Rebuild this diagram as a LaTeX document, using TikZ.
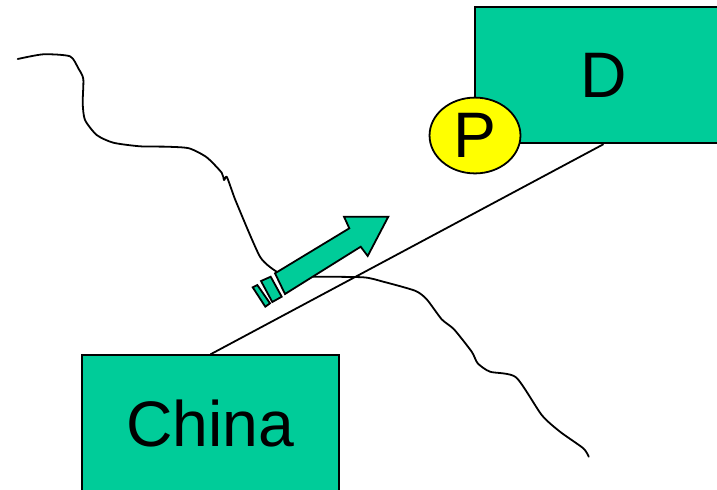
\documentclass[tikz,border=0pt]{standalone}
\usepackage{fontspec}
\setmainfont{Liberation Sans}
\usetikzlibrary{shapes.geometric}

\tikzset{
    countrybox/.style={shape=rectangle,draw,fill=map_green,line width=1.35pt,minimum width=6.81cm,minimum height=3.62cm,font=\fontsize{48.5}{50}\selectfont},
    riverline/.style={line width=1.35pt,line join=round,line cap=round},
}

\begin{document}
\begin{tikzpicture}[x=0.0265cm,y=-0.0265cm]
    \definecolor{map_green}{RGB}{0,204,153}
    \definecolor{map_yellow}{RGB}{255,255,0}

    \useasboundingbox (0,0) rectangle (717,489);
    \clip (0,0) rectangle (717,489);

    \node[countrybox] (china) at (210.5,423.5) {China};
    \node[countrybox] (dest) at (603.5,75) {D};

    \draw[line width=1.35pt] (china.north) to (dest.south);

    % river, west part
    \draw[riverline] plot[smooth,tension=0.4] coordinates {
        (17.7,59) (43.3,54.3) (70,56.3) (78.3,68.3) (83.3,79) (82.7,103.3) (85,120)
        (96.7,135) (113.3,142.7) (140,146.3) (166.7,146.7) (189,148.3) (206.7,157.3)
        (221.7,172.7) (224,180) (226.7,176.7) (231.7,190) (236.7,203.3) (260,256.7) (276.7,271.7)
    };
    % river, east part
    \draw[riverline] plot[smooth,tension=0.4] coordinates {
        (313,276.7) (363.3,277.3) (383.3,281.7) (415,290.7) (426.7,299.3) (441.7,319.3)
        (454,329.3) (471.7,351.7) (477.7,363.3) (490,371.7) (516,377.3) (541.7,415)
        (560,431.7) (583.3,448.3) (588.7,456.7)
    };

    \node[shape=ellipse,draw,fill=map_yellow,line width=1.35pt,inner sep=0pt,minimum width=2.41cm,minimum height=2.01cm,font=\fontsize{48.5}{50}\selectfont] (port) at (475,135.5) {P};

    \draw[line width=1.35pt,fill=map_green,line join=miter] (275,273.3) to (349.3,228.3) to (344,216.7) to (388.3,216.7) to (367.7,256) to (360.7,246.7) to (285,294) to cycle;
    \draw[line width=1.35pt,fill=map_green] (261,281) to (270.7,276.7) to (281.7,296.7) to (272.3,302) to cycle;
    \draw[line width=1.35pt,fill=map_green] (252.7,287.3) to (257.3,285) to (270,303.3) to (265.3,306.7) to cycle;
\end{tikzpicture}
\end{document}
